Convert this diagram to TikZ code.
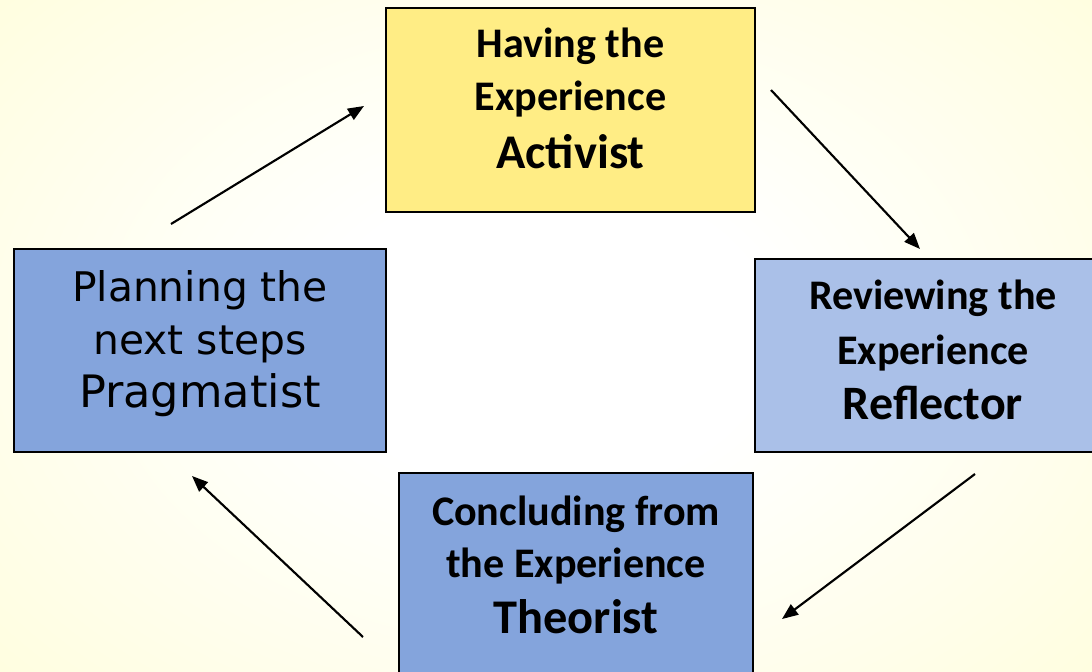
\documentclass[tikz,border=0pt]{standalone}
\usepackage{fontspec}
\usetikzlibrary{arrows.meta}
\setmainfont{Carlito}
\newfontfamily\tahomalike{DejaVu Sans}
\definecolor{bgyellow}{RGB}{255,253,200}
\definecolor{actfill}{RGB}{255,237,133}
\definecolor{darkblue}{RGB}{132,164,220}
\definecolor{lightblue}{RGB}{170,192,232}
\pgfdeclareradialshading{bgshade}{\pgfpoint{0bp}{0bp}}{color(0bp)=(white); color(8bp)=(white); color(40bp)=(bgyellow); color(100bp)=(bgyellow)}
\tikzset{
  box/.style={draw=black, line width=1.3pt, inner sep=0pt, anchor=center},
  flow/.style={line width=1.6pt, -{Triangle[length=12pt,width=9.5pt]}},
}
\begin{document}
\begin{tikzpicture}[x=0.75pt,y=-0.75pt]
\useasboundingbox (0,0) rectangle (1092,671);
\shade[shading=bgshade] (-150,-150) rectangle (1242,821);
\begin{scope}
\clip (0,0) rectangle (1092,671);
% Activist
\node[box, fill=actfill, minimum width=276.75pt, minimum height=153pt,
      font=\bfseries\fontsize{31.6}{39.75}\selectfont] (act) at (570.5,110)
  {\begin{tabular}{@{}c@{}}Having the\\ Experience\\[3.75pt] {\fontsize{36.3}{39.75}\selectfont Activist}\\[12.15pt]\end{tabular}};
% Reflector
\node[box, fill=lightblue, minimum width=267pt, minimum height=144.75pt,
      font=\bfseries\fontsize{31.6}{41.25}\selectfont] (ref) at (933,355.5)
  {\begin{tabular}{@{}c@{}}Reviewing the\\ Experience\\ {\fontsize{36}{41.25}\selectfont Reflector}\\[3.6pt]\end{tabular}};
% Theorist
\node[box, fill=darkblue, minimum width=265.5pt, minimum height=185.25pt,
      font=\bfseries\fontsize{31.6}{39}\selectfont] (theo) at (576,596.5)
  {\begin{tabular}{@{}c@{}}Concluding from\\ the Experience\\[3pt] {\fontsize{36.3}{39}\selectfont Theorist}\\[41.85pt]\end{tabular}};
% Pragmatist
\node[box, fill=darkblue, minimum width=279pt, minimum height=152.25pt,
      font=\tahomalike\fontsize{30.6}{39.75}\selectfont] (prag) at (200,350.5)
  {\begin{tabular}{@{}c@{}}Planning the\\ next steps\\ {\fontsize{33.5}{39.75}\selectfont Pragmatist}\\[9.7pt]\end{tabular}};
\end{scope}
% arrow end points
\coordinate (a1s) at (171,224);
\coordinate (a1e) at (364,106);
\coordinate (a2s) at (771,90);
\coordinate (a2e) at (920,249);
\coordinate (a3s) at (975,474);
\coordinate (a3e) at (782,619);
\coordinate (a4s) at (363,637);
\coordinate (a4e) at (192,476);
\draw[flow] (a1s) -- (a1e);
\draw[flow] (a2s) -- (a2e);
\draw[flow] (a3s) -- (a3e);
\draw[flow] (a4s) -- (a4e);
\end{tikzpicture}
\end{document}
